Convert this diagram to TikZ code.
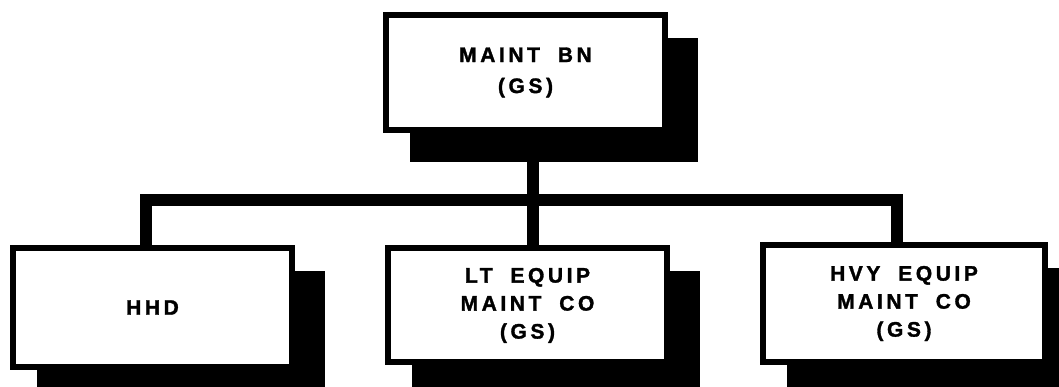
\documentclass[tikz,border=0pt]{standalone}
\usepackage{fontspec}
\newfontfamily\boxfont{Liberation Sans Bold}[LetterSpace=17,WordSpace=1.9,FakeBold=1.5]
\usetikzlibrary{calc,backgrounds}
\begin{document}
\begin{tikzpicture}[x=1pt,y=-1pt,
  unitbox/.style={draw=black,fill=white,line width=6pt,rectangle,inner sep=0pt,
    minimum width=279pt,minimum height=115pt,align=center,
    font=\fontsize{21}{28}\boxfont},
  conn/.style={line width=12pt,line join=miter,line cap=butt},
  shadowfill/.style={fill=black}]
\useasboundingbox (0,0) rectangle (1059,387);
\node[unitbox,font=\fontsize{21}{31}\boxfont] (top) at (525.5,72.5) {MAINT BN\\(GS)};
\node[unitbox,minimum height=119pt] (hhd) at (152.5,307.5) {HHD};
\node[unitbox,minimum height=114pt] (mid) at (527.5,305) {\raisebox{-4pt}{\begin{tabular}{@{}c@{}}LT EQUIP\\MAINT CO\\(GS)\end{tabular}}};
\node[unitbox,minimum width=282pt,minimum height=117pt] (hvy) at (904,303.5) {HVY EQUIP\\MAINT CO\\(GS)};
\coordinate (stem) at (533,200);
\coordinate (bl) at (146,200);
\coordinate (br) at (897,200);
\begin{scope}[on background layer]
  \foreach \n in {top,hhd,mid,hvy}{
    \fill[shadowfill] ($(\n.north west)+(27,26)$) rectangle ($(\n.south east)+(30,29)$);
  }
\end{scope}
\draw[conn] (top.south -| stem) -- (mid.north -| stem);
\draw[conn] (hhd.north -| bl) -- (bl) -- (br) -- (hvy.north -| br);
\end{tikzpicture}
\end{document}
